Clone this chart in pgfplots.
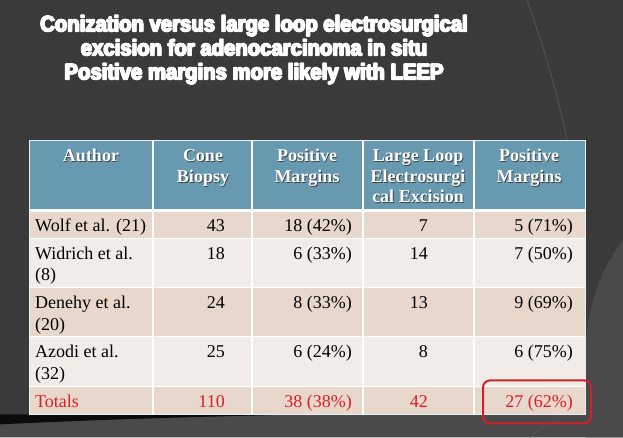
\documentclass[border=0pt]{standalone}
\usepackage{pgfplots}
\pgfplotsset{compat=1.18}
\usepackage{fontspec}
\setmainfont{Liberation Serif}
\newfontfamily\titlefont[FakeBold=2.5]{Liberation Sans Bold}
\definecolor{bg}{HTML}{3A3A3A}
\definecolor{bglight}{HTML}{4A4A4A}
\definecolor{arc}{HTML}{555555}
\definecolor{hdr}{HTML}{6799B0}
\definecolor{rowA}{HTML}{E8D8CC}
\definecolor{rowB}{HTML}{F2ECE8}
\definecolor{tred}{HTML}{DC1E28}
\definecolor{boxred}{HTML}{D0202A}
\newcommand\tf{\fontsize{18}{21}\selectfont}
\newcommand\hf{\fontsize{18}{21}\selectfont}
\newcommand\hd[3]{%
  \node[font=\hf\bfseries,anchor=base,text=black!75,xshift=0.9pt,yshift=-0.9pt] at (#1,#2) {#3};
  \node[font=\hf\bfseries,anchor=base,text=white] at (#1,#2) {#3};}
\newcommand\ttlone[4]{\node[font=\titlefont\fontsize{20.3}{24}\selectfont,text=white,anchor=base,yscale=1.1,xshift=#3pt,yshift=#4pt] at (254,#1) {#2};}
\newcommand\ttl[2]{\ttlone{#1}{#2}{-0.6}{0}\ttlone{#1}{#2}{0.6}{0}\ttlone{#1}{#2}{0}{0.4}\ttlone{#1}{#2}{0}{-0.4}\ttlone{#1}{#2}{0}{0}}
\begin{document}
\begin{tikzpicture}
\begin{axis}[width=623pt,height=437pt,scale only axis,
  xmin=0,xmax=623,ymin=0,ymax=437,y dir=reverse,hide axis,clip=false]
% background
\fill[bg] (0,0) rectangle (623,437);
\fill[bglight] (623,240) .. controls (600,270) and (590,300) .. (586,340) -- (586,437) -- (623,437) -- cycle;
\fill[bglight] (0,423) .. controls (150,418) and (300,412) .. (420,414) -- (623,414) -- (623,437) -- (0,437) -- cycle;
\fill[black!80!bg] (0,414) -- (0,424) .. controls (120,418) and (220,416) .. (300,414) -- cycle;
\draw[arc,line width=0.8] (527,0) .. controls (560,90) and (585,200) .. (586,300);
\draw[arc,line width=0.8] (530,437) .. controls (550,420) and (570,405) .. (585,395);
% title
\ttl{31}{Conization versus large loop electrosurgical}
\ttl{55}{excision for adenocarcinoma in situ}
\ttl{79}{Positive margins more likely with LEEP}
% table cells
\fill[hdr] (29,140) rectangle (585,210);
\fill[rowA] (29,210) rectangle (585,238);
\fill[rowB] (29,238) rectangle (585,287);
\fill[rowA] (29,287) rectangle (585,336);
\fill[rowB] (29,336) rectangle (585,386);
\fill[rowA] (29,386) rectangle (585,414);
\draw[white,line width=1.5] (153,140) -- (153,414) (252,140) -- (252,414) (363,140) -- (363,414) (474,140) -- (474,414);
\draw[white,line width=2.5] (29,210) -- (585,210);
\draw[white,line width=1.2] (29,238) -- (585,238) (29,287) -- (585,287) (29,336) -- (585,336) (29,386) -- (585,386);
\draw[white!85!hdr,line width=1] (29,140) rectangle (585,414);
% header text with shadow
\hd{91}{161}{Author}
\hd{203}{161}{Cone}
\hd{203}{182}{Biopsy}
\hd{307}{161}{Positive}
\hd{307}{182}{Margins}
\hd{418}{161}{Large Loop}
\hd{418}{182}{Electrosurgi}
\hd{418}{202}{cal Excision}
\hd{529}{161}{Positive}
\hd{529}{182}{Margins}
% author column
\node[font=\tf,anchor=base west,text=black,inner sep=0pt] at (35,231) {Wolf et al. (21)};
\node[font=\tf,anchor=base west,text=black,inner sep=0pt] at (35,259) {Widrich et al.};
\node[font=\tf,anchor=base west,text=black,inner sep=0pt] at (35,280) {(8)};
\node[font=\tf,anchor=base west,text=black,inner sep=0pt] at (35,308) {Denehy et al.};
\node[font=\tf,anchor=base west,text=black,inner sep=0pt] at (35,330) {(20)};
\node[font=\tf,anchor=base west,text=black,inner sep=0pt] at (35,357) {Azodi et al.};
\node[font=\tf,anchor=base west,text=black,inner sep=0pt] at (35,379) {(32)};
\node[font=\tf,anchor=base west,text=tred,inner sep=0pt] at (35,407) {Totals};
% data columns
\pgfplotsset{cellstyle/.style={only marks,mark=none,nodes near coords,point meta=explicit symbolic,
  every node near coord/.style={anchor=base east,font=\tf,inner sep=0pt,text=#1}}}
\addplot[cellstyle=black] coordinates {(225,231) [43] (225,259) [18] (225,308) [24] (225,357) [25]};
\addplot[cellstyle=tred] coordinates {(225,407) [110]};
\addplot[cellstyle=black] coordinates {(352,231) [{18 (42\%)}] (352,259) [{6 (33\%)}] (352,308) [{8 (33\%)}] (352,357) [{6 (24\%)}]};
\addplot[cellstyle=tred] coordinates {(352,407) [{38 (38\%)}]};
\addplot[cellstyle=black] coordinates {(428,231) [7] (428,259) [14] (428,308) [13] (428,357) [8]};
\addplot[cellstyle=tred] coordinates {(428,407) [42]};
\addplot[cellstyle=black] coordinates {(573,231) [{5 (71\%)}] (573,259) [{7 (50\%)}] (573,308) [{9 (69\%)}] (573,357) [{6 (75\%)}]};
\addplot[cellstyle=tred] coordinates {(573,407) [{27 (62\%)}]};
% highlight box
\draw[boxred,line width=2,rounded corners=7] (483,380) rectangle (591,423);
\end{axis}
\end{tikzpicture}
\end{document}
